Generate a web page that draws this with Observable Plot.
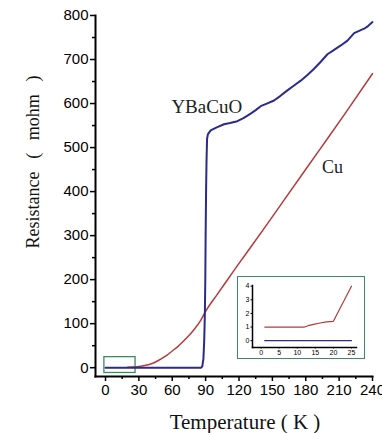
<!DOCTYPE html>
<html><head><meta charset="utf-8">
<script src="https://cdn.jsdelivr.net/npm/d3@7"></script>
<script src="https://cdn.jsdelivr.net/npm/@observablehq/plot@0.6"></script>
<style>
html,body{margin:0;padding:0;background:#fff;}
#wrap{position:relative;width:382px;height:433px;overflow:hidden;background:#fff;}
#inset{position:absolute;left:237px;top:276px;border:1.5px solid #3d8a63;background:#fff;line-height:0;}
</style></head><body><div id="wrap"></div>
<script>
// YBaCuO resistance (mohm) vs temperature (K)
const ybcoT = [0, 20, 40, 60, 80, 86, 87, 88, 88.7, 89.3, 89.7, 90, 90.4, 90.8, 91.3, 92, 94.5, 100, 106.5, 112, 118.5, 124, 130.5, 135, 139.5, 145, 151.5, 157, 163.5, 169.5, 175.5, 181.5, 187.5, 193.5, 199.5, 205.5, 211.5, 217.5, 223.5, 228, 232.5, 236, 240];
const ybcoR = [0, 0, 0, 0, 0, 0, 3, 20, 60, 120, 200, 300, 400, 470, 520, 530, 539, 546, 553, 556, 560, 567, 577, 585, 594, 600, 607, 617, 630, 641, 652, 665, 679, 695, 712, 722, 732, 743, 760, 765, 770, 776, 785];
// Cu resistance (mohm) vs temperature (K)
const cuT = [20, 25, 30, 35, 40, 45, 50, 55, 60, 65, 70, 75, 80, 85, 90, 100, 110, 120, 130, 145, 160, 193, 215, 240];
const cuR = [1, 1.5, 2.5, 5, 8, 13, 20, 28, 38, 48, 60, 73, 88, 105, 128, 165, 201, 237, 272, 325, 379, 497, 576, 668];
// inset (low temperature detail)
const insetCuT = [1, 12, 13, 14.5, 16.3, 18.1, 20, 25];
const insetCuR = [1.0, 1.0, 1.1, 1.2, 1.3, 1.38, 1.42, 4.0];
const insetYT = [1, 25];
const insetYR = [0, 0];
// ticks
const xTicks = [0, 30, 60, 90, 120, 150, 180, 210, 240];
const xMinor = [15, 45, 75, 105, 135, 165, 195, 225];
const yTicks = [0, 100, 200, 300, 400, 500, 600, 700, 800];
const yMinor = [50, 150, 250, 350, 450, 550, 650, 750];
const insetXTicks = [0, 5, 10, 15, 20, 25];
const insetYTicks = [0, 1, 2, 3, 4];
// annotations
const seriesLabels = [{name: "YBaCuO", T: 91, R: 593, size: 19}, {name: "Cu", T: 204, R: 455, size: 18}];
const zoomBox = [{x1: -1, x2: 27, y1: -12, y2: 24}];
const xTitle = "Temperature ( K )";
const yTitle = "Resistance\u2002\u2009(\u2002\u2009mohm\u2002\u2009)";

const blue = "#2b2b8c", red = "#b53a3a", green = "#3d8a63";
const rows = (a, b) => a.map((t, i) => ({T: t, R: b[i]}));

const main = Plot.plot({
  width: 382, height: 433,
  marginLeft: 95, marginRight: 10, marginTop: 15, marginBottom: 57,
  x: {domain: [-9, 240], label: null},
  y: {domain: [-20, 800], label: null},
  style: {fontFamily: "Liberation Sans", background: "white", color: "black", overflow: "visible"},
  marks: [
    Plot.axisY(yTicks, {tickSize: 5, tickPadding: 2, fontSize: 15, strokeWidth: 1.5, label: null}),
    Plot.axisY(yMinor, {tickSize: 3, text: null, strokeWidth: 1.5, label: null}),
    Plot.axisX(xTicks, {tickSize: 5, tickPadding: 3, fontSize: 15, strokeWidth: 1.5, label: null}),
    Plot.axisX(xMinor, {tickSize: 3, text: null, strokeWidth: 1.5, label: null}),
    Plot.frame({anchor: "left", strokeWidth: 2}),
    Plot.frame({anchor: "bottom", strokeWidth: 2}),
    Plot.rect(zoomBox, {x1: "x1", x2: "x2", y1: "y1", y2: "y2", fill: "none", stroke: green, strokeWidth: 1.3}),
    Plot.line(rows(cuT, cuR), {x: "T", y: "R", stroke: red, strokeWidth: 1.5, curve: "monotone-x"}),
    Plot.line(rows(ybcoT, ybcoR), {x: "T", y: "R", stroke: blue, strokeWidth: 2}),
    Plot.text(seriesLabels, {x: "T", y: "R", text: "name", fontSize: "size", fontFamily: "Liberation Serif", fill: "#222"}),
    Plot.text([xTitle], {frameAnchor: "bottom", textAnchor: "middle", lineAnchor: "middle", dx: 11, dy: 46, fontSize: 21, fontFamily: "Liberation Serif", fill: "#111"}),
    Plot.text([yTitle], {frameAnchor: "left", textAnchor: "middle", lineAnchor: "middle", dx: -62, dy: -34, rotate: -90, fontSize: 18, fontFamily: "Liberation Serif", fill: "#111"})
  ]
});

const inset = Plot.plot({
  width: 126, height: 81,
  marginLeft: 14, marginRight: 8, marginTop: 8, marginBottom: 11,
  x: {domain: [-2.4, 26.4], label: null},
  y: {domain: [-0.5, 4.05], label: null},
  style: {fontFamily: "Liberation Sans", background: "white", color: "black", overflow: "visible"},
  marks: [
    Plot.axisY(insetYTicks, {tickSize: 1.5, tickPadding: 1.5, fontSize: 7, label: null}),
    Plot.axisX(insetXTicks, {tickSize: 1.5, tickPadding: 1, fontSize: 7, label: null}),
    Plot.frame({anchor: "left", strokeWidth: 1.5}),
    Plot.frame({anchor: "bottom", strokeWidth: 1.5}),
    Plot.line(rows(insetCuT, insetCuR), {x: "T", y: "R", stroke: red, strokeWidth: 1.2}),
    Plot.line(rows(insetYT, insetYR), {x: "T", y: "R", stroke: blue, strokeWidth: 1.2})
  ]
});

const wrap = document.getElementById("wrap");
wrap.appendChild(main);
const box = document.createElement("div");
box.id = "inset";
box.appendChild(inset);
wrap.appendChild(box);
</script>
</body></html>
